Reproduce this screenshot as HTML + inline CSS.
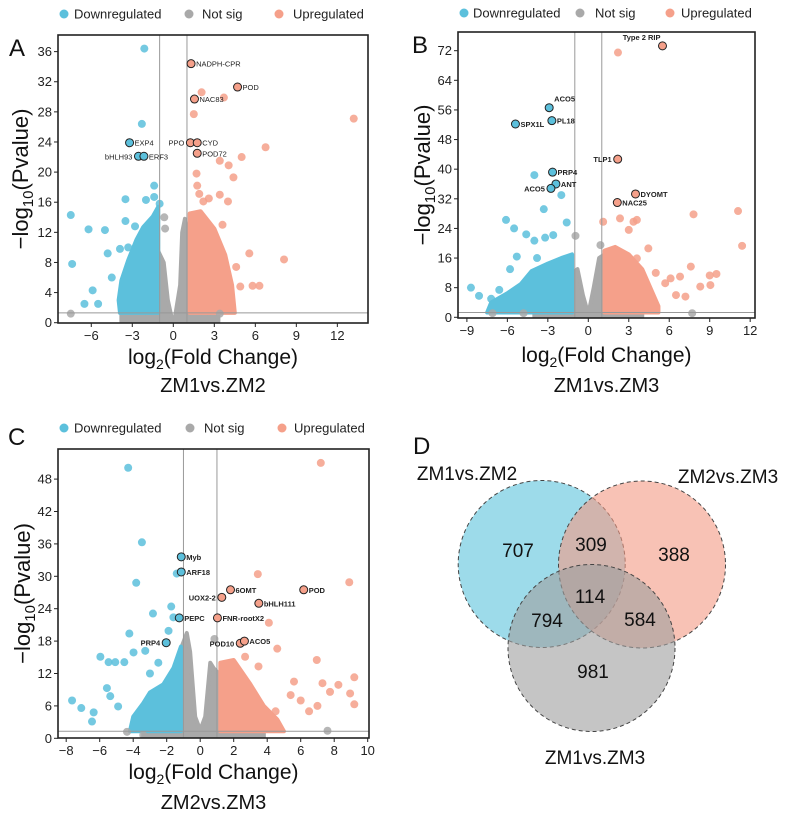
<!DOCTYPE html>
<html><head><meta charset="utf-8">
<style>
html,body{margin:0;padding:0;background:#fff;}
body{width:789px;height:820px;overflow:hidden;font-family:"Liberation Sans",Arial,sans-serif;}
svg{display:block}
</style></head>
<body>
<svg id="fig" width="789" height="820" viewBox="0 0 789 820" xmlns="http://www.w3.org/2000/svg" font-family="Liberation Sans, Arial, sans-serif">
</svg>
<script>
// ===== Panel A data (ZM1vs.ZM2) =====
const aDownX=[-2.12,-2.3,-7.5,-7.4,-6.2,-5,-3.5,-1.4,-1.4,-3.5,-2.8,-4.8,-5.9,-6.5,-5.5,-2,-1,-3.3,-4.5,-3.9];
const aDownY=[36.4,26.4,14.3,7.8,12.4,12.3,16.4,18.2,16.7,13.5,12.8,9.2,4.3,2.5,2.5,16.3,15.8,10,6,9.8];
const aUpX=[2.07,3.7,1.5,13.2,6.75,5,3.4,4.05,4.4,1.7,1.75,1.9,3.4,2.2,4,5.56,8.1,5.8,6.3,4.6,4.9,4.1,3.6,2.6];
const aUpY=[30.6,29.9,27.7,27.1,23.3,22,21.5,20.9,19.3,19.8,18.2,17.1,17,16.1,16.1,9.2,8.4,4.9,4.9,7.4,4.8,2.8,13,16.5];
const aNsX=[-7.5,3.4,-0.66,-0.6];
const aNsY=[1.2,1.2,14,12.5];
const aDownCloud=[[-3.9,1.3],[-4.0,3],[-3.8,5.6],[-3.3,8.3],[-2.7,11],[-2.2,12.7],[-1.5,14.1],[-1.1,15.4],[-1.1,1.3]];
const aNsCloud=[[-3.8,0.2],[-3.8,1.2],[-1.1,1.3],[-1.1,9.5],[-0.7,8],[-0.4,3],[-0.1,0.5],[0.1,0.5],[0.5,5],[0.65,12],[0.85,13.8],[1.1,12],[1.1,1.3],[3.3,1.2],[3.3,0.2]];
const aUpCloud=[[1.2,1.3],[1.2,14.5],[2,14.8],[3,12.5],[3.8,9],[4.3,5],[4.5,1.3]];
const aLabelNames=["NADPH-CPR","POD","NAC83","PPO","CYD","POD72","EXP4","bHLH93","ERF3"];
const aLabelX=[1.3,4.7,1.55,1.25,1.75,1.75,-3.2,-2.55,-2.15];
const aLabelY=[34.4,31.3,29.7,23.9,23.9,22.5,23.9,22.1,22.1];
const aLabelSide=["r","r","r","l","r","r","r","l","r"];
const aLabelReg=["up","up","up","up","up","up","down","down","down"];
const aXTicks=[-6,-3,0,3,6,9,12];
const aYTicks=[0,4,8,12,16,20,24,28,32,36];

// ===== Panel B data (ZM1vs.ZM3) =====
const bDownX=[-4,-2,-3.3,-6.1,-5.5,-4.6,-4,-3.2,-2.6,-1.6,-8.7,-8.1,-6.6,-5.3,-7.2,-5.8,-3.8];
const bDownY=[38.4,33,29.2,26.3,24,22.4,20.7,21.5,22.2,25.6,8,5.8,7.4,16.4,5,13,16];
const bUpX=[2.2,11.1,11.4,7.8,7.6,9.5,9,9.05,8.3,6.8,6.1,5.7,7.2,4.45,3.6,2.35,3,1.1,3.35,3.6,6.5,5];
const bUpY=[71.5,28.7,19.3,27.8,13.7,11.7,11.3,8.7,8.3,11,10.5,9.2,5.6,18.6,15.9,26.7,23.6,25.8,25.8,26.3,6,12];
const bNsX=[-7.1,-4.8,7.7,0.9,-0.95];
const bNsY=[1.1,1.1,1.1,19.5,22];
const bDownCloud=[[-7.5,1.3],[-7.2,4],[-6,6.5],[-5,9],[-4.2,12.5],[-3,14.5],[-2,16],[-1.2,17],[-1.2,1.3]];
const bNsCloud=[[-4,0.2],[-4,1.3],[-1.2,1.3],[-1.2,12],[-0.8,13],[-0.4,6],[0,0.8],[0.4,8],[0.8,16],[1.2,17],[1.2,1.3],[4,1.3],[4,0.2]];
const bUpCloud=[[1.2,1.3],[1.2,18],[2,19],[3,17],[4,13],[4.6,8],[5.2,3],[5.2,1.3]];
const bLabelNames=["Type 2 RIP","ACO5","PL18","SPX1L","TLP1","PRP4","ANT","ACO5","DYOMT","NAC25"];
const bLabelX=[5.5,-2.9,-2.7,-5.4,2.18,-2.65,-2.4,-2.77,3.5,2.15];
const bLabelY=[73.3,56.6,53.1,52.2,42.7,39.2,36,34.8,33.3,31];
const bLabelSide=["lt","rt","r","r","l","r","r","l","r","r"];
const bLabelReg=["up","down","down","down","up","down","down","down","up","up"];
const bXTicks=[-9,-6,-3,0,3,6,9,12];
const bYTicks=[0,8,16,24,32,40,48,56,64,72];

// ===== Panel C data (ZM2vs.ZM3) =====
const cDownX=[-4.3,-3.48,-3.82,-2.82,-1.73,-1.89,-4.23,-1.4,-1.6,-3.28,-3.98,-5.96,-5.47,-5.07,-4.53,-7.65,-7.1,-6.36,-6.46,-5.57,-5.37,-4.9,-2.5,-3];
const cDownY=[50.1,36.3,28.8,23.1,24.4,19.9,19.4,30.5,22.4,16.2,15.9,15.1,14.1,14.1,14.1,7,5.6,4.8,3.1,9.3,7.8,5.9,14,12];
const cUpX=[7.2,8.9,3.44,4.1,4.6,6.96,9.2,9.2,8.95,7.3,5.6,5.4,7.75,8.25,3.48,2.68,6.5,4.5,6,7];
const cUpY=[51,28.9,30.4,21.4,16.6,14.5,11.3,6.3,8.3,10.2,10.5,8,8.6,9.9,13.3,15.1,5,5,7,6];
const cNsX=[-4.37,-3.4,7.6,0.85];
const cNsY=[1.2,0.6,1.4,18.4];
const cDownCloud=[[-4.2,1.3],[-4.0,4],[-3.4,6.5],[-3,8.5],[-2.2,10],[-1.6,13],[-1.15,17],[-1.15,1.3]];
const cNsCloud=[[-3.4,0.2],[-3.4,1.3],[-1.1,1.3],[-1.1,17],[-0.8,19.5],[-0.6,16],[-0.3,4],[0,1.5],[0.3,4],[0.6,14],[0.8,13],[1.1,12],[1.1,1.3],[3.8,1.3],[3.8,0.2]];
const cUpCloud=[[1.2,1.3],[1.2,14],[2,14.5],[3,10],[3.8,6],[4.6,3.5],[5,1.3]];
const cLabelNames=["Myb","ARF18","PEPC","PRP4","6OMT","UOX2-2","POD","bHLH111","FNR-rootX2","POD10","ACO5"];
const cLabelX=[-1.13,-1.13,-1.25,-2.03,1.81,1.29,6.18,3.5,1.03,2.39,2.64];
const cLabelY=[33.6,30.8,22.3,17.7,27.5,26.1,27.5,25,22.3,17.6,18];
const cLabelSide=["r","r","r","l","r","l","r","r","r","l","r"];
const cLabelReg=["down","down","down","down","up","up","up","up","up","up","up"];
const cXTicks=[-8,-6,-4,-2,0,2,4,6,8,10];
const cYTicks=[0,6,12,18,24,30,36,42,48];

// ===== Venn data =====
const vennSets=["ZM1vs.ZM2","ZM2vs.ZM3","ZM1vs.ZM3"];
const vennCounts=[707,309,388,114,794,584,981];

const NS="http://www.w3.org/2000/svg";
const svg=document.getElementById('fig');
const BLUE="#5cc0dc",GRAY="#a9a9a9",RED="#f5a08a";
function mk(tag,attrs,parent){const e=document.createElementNS(NS,tag);for(const k in attrs)e.setAttribute(k,attrs[k]);(parent||svg).appendChild(e);return e;}
function txt(s,attrs,parent){const e=mk('text',attrs,parent);e.textContent=s;return e;}

function legend(g,y,xs){
  const items=[["Downregulated",BLUE],["Not sig",GRAY],["Upregulated",RED]];
  items.forEach((it,i)=>{
    const c=mk('circle',{cx:xs[i*2],cy:y,r:4.5,fill:it[1]},g);
    
    
    const t=txt(it[0],{x:xs[i*2+1],y:y+4.5,'font-size':13,fill:'#222'},g);
    
    
  });
}

function panel(o){
  const g=mk('g',{});
  
  
  const sx=v=>o.x0+v*o.ux, sy=v=>o.y0-v*o.uy;
  legend(g,o.legY,o.legX);
  const L=txt(o.letter,{x:o.letX,y:o.letY,'font-size':24,fill:'#111'},g);
  
  
  const cid='clip'+o.letter;
  const cp=mk('clipPath',{id:cid},g);mk('rect',{x:o.bx0,y:o.by0,width:o.bx1-o.bx0,height:o.by1-o.by0},cp);
  const pg=mk('g',{'clip-path':'url(#'+cid+')'},g);
  
  
  function cloud(pts,col,nm){
    const p=mk('polygon',{points:pts.map(p=>sx(p[0])+','+sy(p[1])).join(' '),fill:col,stroke:col,'stroke-width':4,'stroke-linejoin':'round'},pg);
    
    
  }
  cloud(o.nsCloud,GRAY,'not-sig-cloud');
  cloud(o.downCloud,BLUE,'downregulated-cloud');
  cloud(o.upCloud,RED,'upregulated-cloud');
  function pts(X,Y,col,nm){
    X.forEach((v,i)=>{
      const c=mk('circle',{cx:sx(v),cy:sy(Y[i]),r:4,fill:col,'fill-opacity':0.85},pg);
      
      
    });
  }
  pts(o.nsX,o.nsY,GRAY,'not-sig-point');
  pts(o.downX,o.downY,BLUE,'downregulated-point');
  pts(o.upX,o.upY,RED,'upregulated-point');
  [-1,1].forEach(v=>{const l=mk('line',{x1:sx(v),x2:sx(v),y1:o.by0,y2:o.by1,stroke:'#999','stroke-width':1},pg);
    
    });
  const hl=mk('line',{x1:o.bx0,x2:o.bx1,y1:sy(1.3),y2:sy(1.3),stroke:'#999','stroke-width':1},pg);
  
  
  o.labN.forEach((n,i)=>{
    const px=sx(o.labX[i]),py=sy(o.labY[i]);
    const c=mk('circle',{cx:px,cy:py,r:4,fill:o.labR[i]=='up'?RED:BLUE,stroke:'#222','stroke-width':1},pg);
    
    
    const s=o.labS[i];
    let tx=px+5,ty=py+3,anc='start';
    if(s=='l'){tx=px-6;anc='end';}
    if(s=='lt'){tx=px-2;ty=py-6;anc='end';}
    if(s=='rt'){tx=px+5;ty=py-6;}
    const t=txt(n,{x:tx,y:ty,'font-size':7.5,'font-weight':o.bold?'bold':'normal',fill:'#222','text-anchor':anc},pg);
    
    
  });
  const b=mk('rect',{x:o.bx0,y:o.by0,width:o.bx1-o.bx0,height:o.by1-o.by0,fill:'none',stroke:'#222','stroke-width':1.6},g);
  
  
  o.xt.forEach(v=>{
    mk('line',{x1:sx(v),x2:sx(v),y1:o.by1,y2:o.by1+4,stroke:'#222'},g);
    const t=txt(String(v).replace('-','\u2212'),{x:sx(v),y:o.by1+17,'font-size':13,'text-anchor':'middle',fill:'#222'},g);
    
    
  });
  o.yt.forEach(v=>{
    mk('line',{x1:o.bx0-4,x2:o.bx0,y1:sy(v),y2:sy(v),stroke:'#222'},g);
    const t=txt(String(v),{x:o.bx0-6,y:sy(v)+4.5,'font-size':13,'text-anchor':'end',fill:'#222'},g);
    
    
  });
  const cx=(o.bx0+o.bx1)/2;
  const xt=mk('text',{x:cx,y:o.xtY,'font-size':21,'text-anchor':'middle',fill:'#111'},g);
  xt.innerHTML='log<tspan font-size="14" dy="5">2</tspan><tspan dy="-5">(Fold Change)</tspan>';
  
  
  const cy=(o.by0+o.by1)/2;
  const yt=mk('text',{x:0,y:0,'font-size':22,'text-anchor':'middle',fill:'#111',transform:'translate('+o.ytX+','+cy+') rotate(-90)'},g);
  yt.innerHTML='\u2212log<tspan font-size="15" dy="5">10</tspan><tspan dy="-5">(Pvalue)</tspan>';
  
  
  const st=txt(o.sub,{x:cx,y:o.subY,'font-size':20,'text-anchor':'middle',fill:'#111'},g);
  
  
}

panel({name:'volcano-plot-a',letter:'A',letX:9,letY:56,legY:14,legX:[64,74,189,202,279,293],
  bx0:58,bx1:368,by0:35,by1:323,x0:173.3,ux:13.67,y0:322.7,uy:7.53,
  downX:aDownX,downY:aDownY,upX:aUpX,upY:aUpY,nsX:aNsX,nsY:aNsY,
  downCloud:aDownCloud,nsCloud:aNsCloud,upCloud:aUpCloud,
  labN:aLabelNames,labX:aLabelX,labY:aLabelY,labS:aLabelSide,labR:aLabelReg,bold:false,
  xt:aXTicks,yt:aYTicks,xtY:364,ytX:28,sub:'ZM1vs.ZM2',subY:392});
panel({name:'volcano-plot-b',letter:'B',letX:412,letY:53,legY:13,legX:[464,473,580,595,670,681],
  bx0:458,bx1:755,by0:32,by1:318,x0:588.3,ux:13.49,y0:317.3,uy:3.703,
  downX:bDownX,downY:bDownY,upX:bUpX,upY:bUpY,nsX:bNsX,nsY:bNsY,
  downCloud:bDownCloud,nsCloud:bNsCloud,upCloud:bUpCloud,
  labN:bLabelNames,labX:bLabelX,labY:bLabelY,labS:bLabelSide,labR:bLabelReg,bold:true,
  xt:bXTicks,yt:bYTicks,xtY:362,ytX:430,sub:'ZM1vs.ZM3',subY:392});
panel({name:'volcano-plot-c',letter:'C',letX:8,letY:445,legY:428,legX:[64,74,190,204,282,294],
  bx0:58,bx1:369,by0:449,by1:738,x0:200.2,ux:16.75,y0:738.3,uy:5.40,
  downX:cDownX,downY:cDownY,upX:cUpX,upY:cUpY,nsX:cNsX,nsY:cNsY,
  downCloud:cDownCloud,nsCloud:cNsCloud,upCloud:cUpCloud,
  labN:cLabelNames,labX:cLabelX,labY:cLabelY,labS:cLabelSide,labR:cLabelReg,bold:true,
  xt:cXTicks,yt:cYTicks,xtY:779,ytX:30,sub:'ZM2vs.ZM3',subY:809});

const vg=mk('g',{});


const D=txt('D',{x:413,y:454,'font-size':24,fill:'#111'},vg);


const circ=[[541.7,564,'#5bc3dc'],[642,564.5,'#f39a83'],[591.5,648,'#9e9e9e']];
circ.forEach((c,i)=>{
  const e=mk('circle',{cx:c[0],cy:c[1],r:83.5,fill:c[2],'fill-opacity':0.6,stroke:'#444','stroke-width':1,'stroke-dasharray':'4,3'},vg);
  
  
});
const setPos=[[467,480],[728,483],[595,764]];
vennSets.forEach((s,i)=>{
  const t=txt(s,{x:setPos[i][0],y:setPos[i][1],'font-size':19,'text-anchor':'middle',fill:'#111'},vg);
  
  
});
const cntPos=[[518,557],[591,551],[674,561],[590,603],[547,627],[640,626],[593,678]];
vennCounts.forEach((v,i)=>{
  const t=txt(String(v),{x:cntPos[i][0],y:cntPos[i][1],'font-size':19,'text-anchor':'middle',fill:'#111'},vg);
  
  
});
</script>
</body></html>
